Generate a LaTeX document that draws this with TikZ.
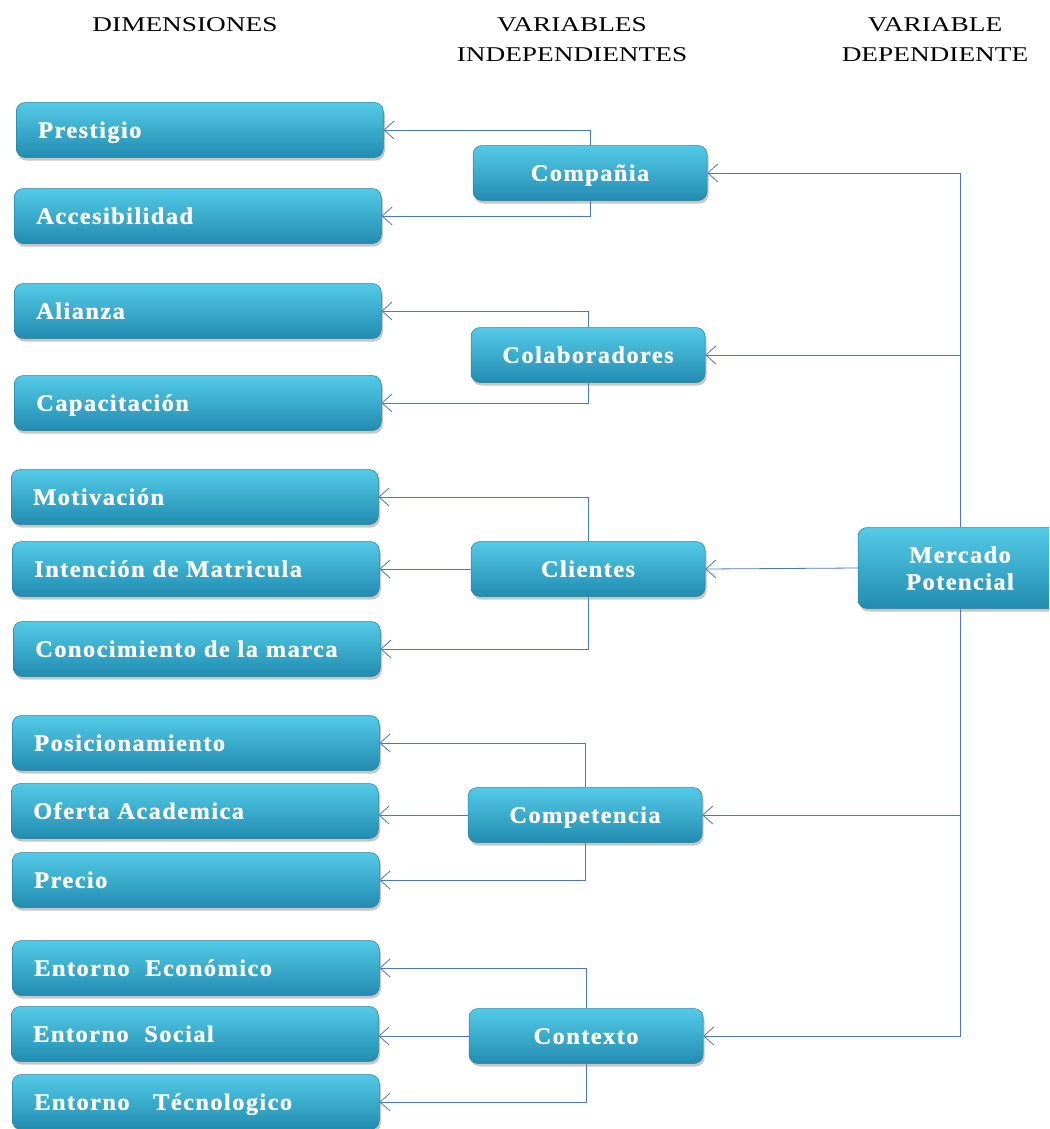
\documentclass[tikz,border=0pt]{standalone}
\usepackage{fontspec}
\setmainfont{Liberation Serif}
\newfontfamily\boxfont[LetterSpace=6,FakeStretch=1.04,FakeBold=0.8]{Liberation Serif}
\newfontfamily\hdrfont[FakeStretch=1.3]{Liberation Serif}
\usetikzlibrary{arrows.meta,shadows,calc}
\definecolor{boxtop}{RGB}{84,202,232}
\definecolor{boxbot}{RGB}{34,140,176}
\definecolor{boxedge}{RGB}{36,130,160}
\definecolor{linecol}{RGB}{74,122,190}
\pgfdeclarelayer{bg}
\pgfsetlayers{bg,main}
\tikzset{
  box/.style={rounded corners=9pt, draw=boxedge, line width=0.5pt,
    top color=boxtop, bottom color=boxbot, minimum height=55pt,
    drop shadow={shadow xshift=1.5pt, shadow yshift=-3pt, opacity=0.45},
    font=\boxfont\bfseries\fontsize{23.5}{27}\selectfont, text=white},
  lbox/.style={box, minimum width=367pt, text width=323pt, inner xsep=22pt, align=left, anchor=west,
    text height=18pt, text depth=2.4pt},
  mbox/.style={box, minimum width=234pt, align=center, text height=18pt, text depth=2.4pt},
  conn/.style={draw=linecol, line width=0.8pt, -{Straight Barb[length=10pt,width=18pt,line width=0.8pt]}},
  hdr/.style={font=\hdrfont\fontsize{21}{30}\selectfont, align=center, text=black}
}
\begin{document}
\begin{tikzpicture}[x=1pt,y=-1pt]
\useasboundingbox (0,0) rectangle (1049,1129);
\clip (0,0) rectangle (1049,1129);
% headers
\node[hdr] (h1) at (185,25) {DIMENSIONES};
\node[hdr] (h2) at (572,40) {VARIABLES\\INDEPENDIENTES};
\node[hdr] (h3) at (935,40) {VARIABLE\\DEPENDIENTE};
% left boxes
\node[lbox] (p1) at (16,130) {Prestigio};
\node[lbox] (p2) at (14,216) {Accesibilidad};
\node[lbox] (q1) at (14,311) {Alianza};
\node[lbox] (q2) at (14,403) {Capacitación};
\node[lbox] (r1) at (11,497) {Motivación};
\node[lbox] (r2) at (12,569) {Intención de Matricula};
\node[lbox] (r3) at (13,649) {Conocimiento de la marca};
\node[lbox] (s1) at (12,743) {Posicionamiento};
\node[lbox] (s2) at (11,811) {Oferta Academica};
\node[lbox] (s3) at (12,880) {Precio};
\node[lbox] (t1) at (12,968) {Entorno\ \ Económico};
\node[lbox] (t2) at (11,1034) {Entorno\ \ Social};
\node[lbox] (t3) at (12,1102) {Entorno\ \ \ Técnologico};
% middle boxes
\node[mbox] (c1) at (590,173) {Compañia};
\node[mbox] (c2) at (588,355) {Colaboradores};
\node[mbox] (c3) at (588,569) {Clientes};
\node[mbox] (c4) at (585,815) {Competencia};
\node[mbox] (c5) at (586,1036) {Contexto};
% dependent
\node[box, minimum width=204pt, minimum height=81pt, align=center] (mp) at (960,568) {Mercado\\Potencial};
\begin{pgfonlayer}{bg}
\draw[conn] (c1.north) |- (p1.east);
\draw[conn] (c1.south) |- (p2.east);
\draw[conn] (c2.north) |- (q1.east);
\draw[conn] (c2.south) |- (q2.east);
\draw[conn] (c3.north) |- (r1.east);
\draw[conn] (c3.west) -- (c3.west -| r2.east);
\draw[conn] (c3.south) |- (r3.east);
\draw[conn] (c4.north) |- (s1.east);
\draw[conn] (c4.west) -- (c4.west -| s2.east);
\draw[conn] (c4.south) |- (s3.east);
\draw[conn] (c5.north) |- (t1.east);
\draw[conn] (c5.west) -- (c5.west -| t2.east);
\draw[conn] (c5.south) |- (t3.east);
\draw[conn] (mp.north) |- (c1.east);
\draw[conn] (mp.north |- c2.east) -- (c2.east);
\draw[conn] (mp.west) -- (c3.east);
\draw[conn] (mp.south |- c4.east) -- (c4.east);
\draw[conn] (mp.south) |- (c5.east);
\end{pgfonlayer}
\end{tikzpicture}
\end{document}
